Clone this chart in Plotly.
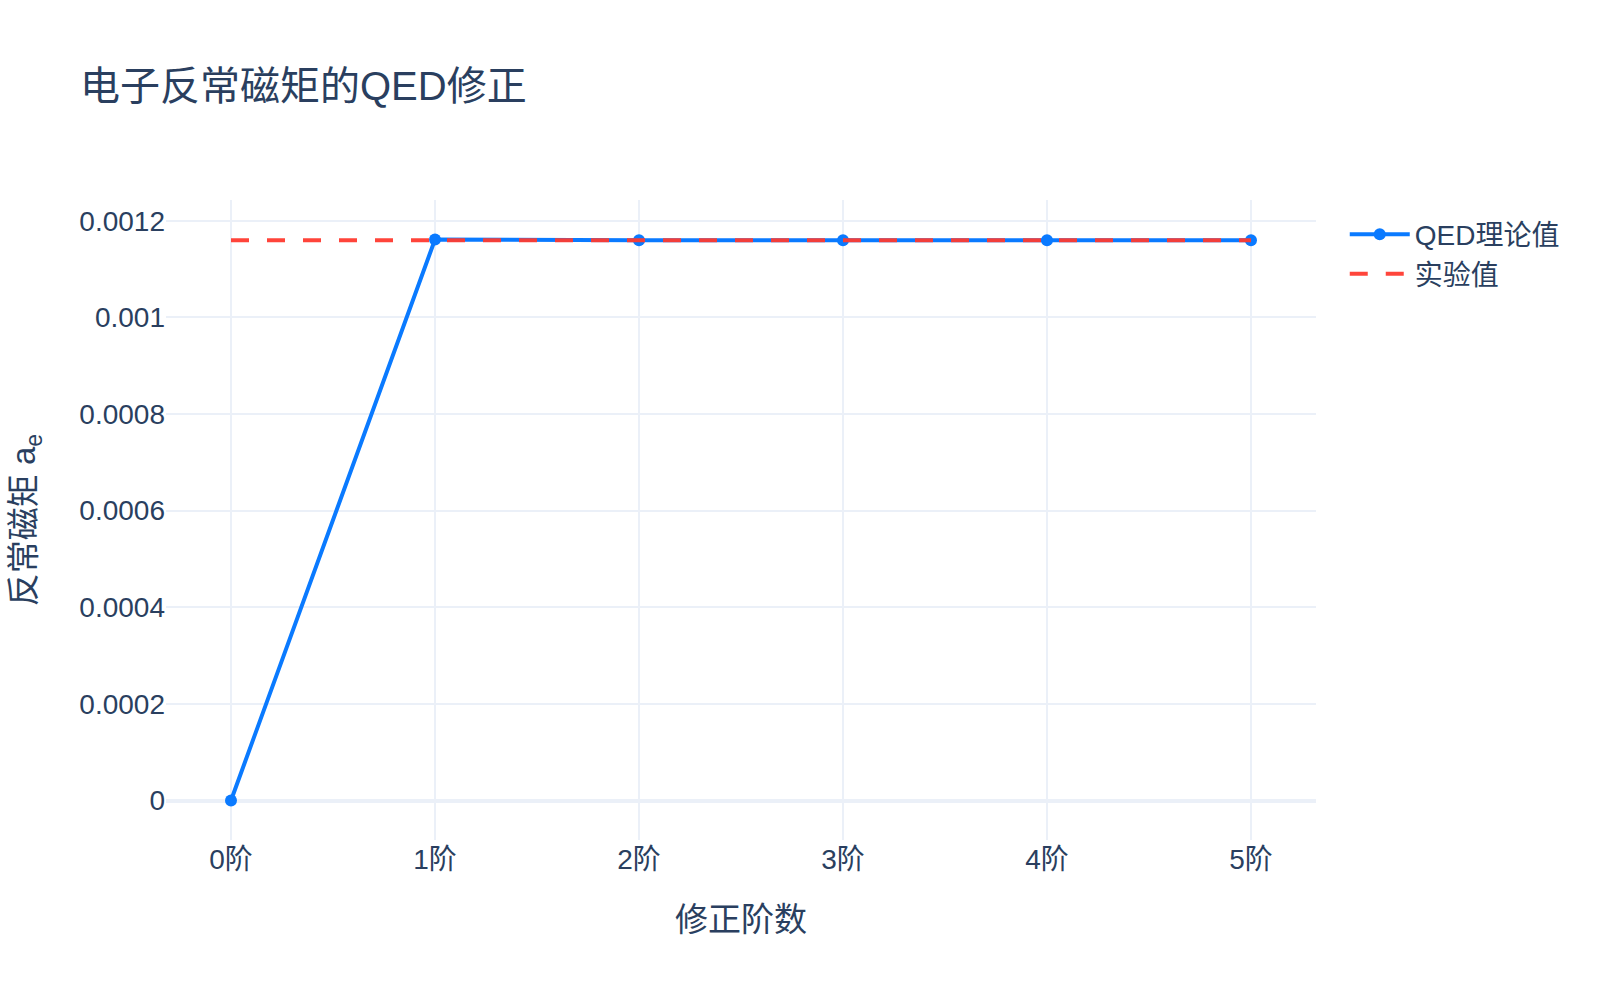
import plotly.graph_objects as go

orders = ["0阶", "1阶", "2阶", "3阶", "4阶", "5阶"]
qed_values = [0.0, 0.0011614097, 0.0011596400, 0.0011596548, 0.0011596547, 0.0011596547]
experiment_value = 0.00115965218
experiment_values = [experiment_value] * len(orders)

BLUE = "#0A7AFF"
RED = "#FF3B30"
FONT = "Liberation Sans, Helvetica, Arial, 'Noto Sans CJK SC', sans-serif"

fig = go.Figure()
fig.add_trace(go.Scatter(
    x=orders, y=qed_values, mode="lines+markers", name="QED理论值",
    line=dict(color=BLUE, width=4), marker=dict(size=12, color=BLUE),
))
fig.add_trace(go.Scatter(
    x=orders, y=experiment_values, mode="lines", name="实验值",
    line=dict(color=RED, width=4, dash="18px,18px"), opacity=0.95,
))

fig.update_layout(
    template="plotly_white",
    width=1600, height=1000,
    margin=dict(l=166, r=284, t=200, b=160, autoexpand=False),
    font=dict(family=FONT, size=28, color="#2a3f5f"),
    title=dict(text="电子反常磁矩的QED修正", font=dict(size=40), x=0.05),
    legend=dict(font=dict(size=28), itemwidth=60, x=1.025, y=0.985),
    xaxis=dict(title=dict(text="修正阶数", font=dict(size=33), standoff=33), gridwidth=2),
    yaxis=dict(title=dict(text="反常磁矩 a<sub>e</sub>", font=dict(size=33), standoff=33),
               gridwidth=2, zerolinewidth=4),
)

fig.write_html("out.html")
